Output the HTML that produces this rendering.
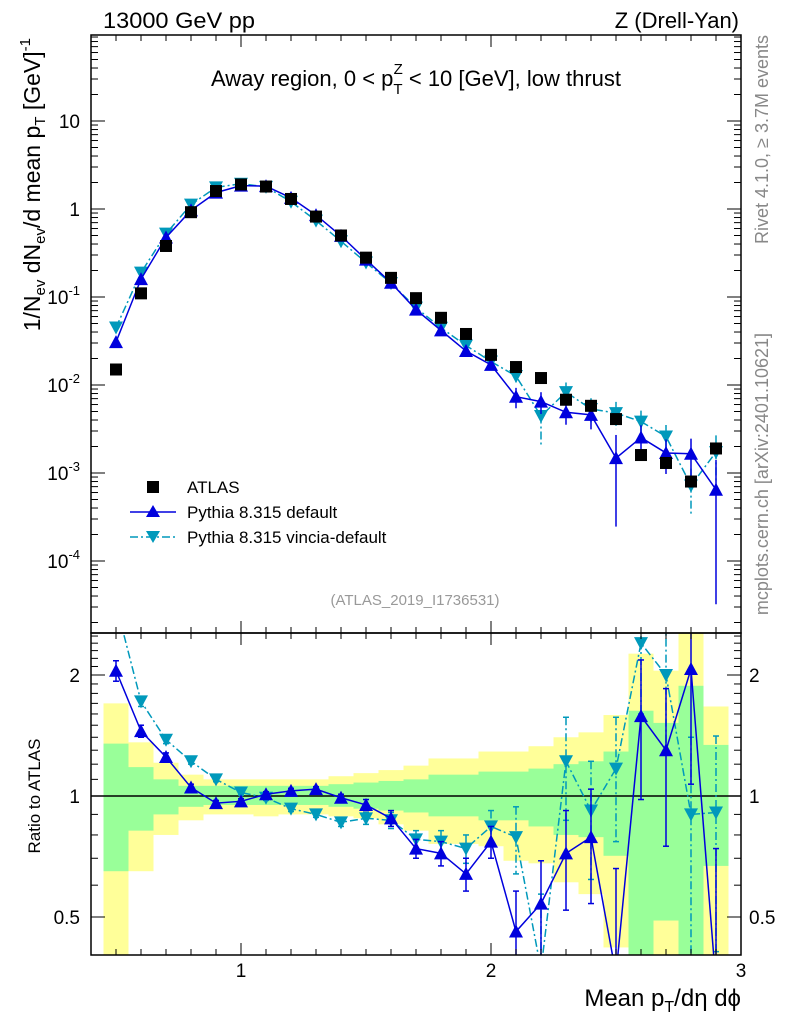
<!DOCTYPE html>
<html><head><meta charset="utf-8">
<style>
html,body{margin:0;padding:0;background:#fff;overflow:hidden;width:786px;height:1024px;}
svg{display:block;font-family:"Liberation Sans",Arial,sans-serif;}
</style></head>
<body>
<svg id="chart" width="786" height="1024" viewBox="0 0 786 1024" xmlns="http://www.w3.org/2000/svg">
<g id="bands"></g>
<g id="marks"></g>
<g id="axes"></g>
<text x="103" y="28" font-size="22" textLength="152" lengthAdjust="spacingAndGlyphs">13000 GeV pp</text>
<text x="739" y="28" font-size="22" text-anchor="end">Z (Drell-Yan)</text>
<text x="416" y="86" font-size="22" text-anchor="middle">Away region, 0 &lt; p<tspan font-size="15" dy="8">T</tspan><tspan font-size="15" dx="-9" dy="-20">Z</tspan><tspan dy="12"> &lt; 10 [GeV], low thrust</tspan></text>
<text transform="translate(40,38) rotate(-90)" font-size="23" text-anchor="end">1/N<tspan font-size="15" dy="5">ev</tspan><tspan dy="-5"> dN</tspan><tspan font-size="15" dy="5">ev</tspan><tspan dy="-5">/d mean p</tspan><tspan font-size="15" dy="5">T</tspan><tspan dy="-5"> [GeV]</tspan><tspan font-size="15" dy="-10">-1</tspan></text>
<text transform="translate(40,796) rotate(-90)" font-size="17" text-anchor="middle">Ratio to ATLAS</text>
<text transform="translate(768,35) rotate(-90)" font-size="18" fill="#888" text-anchor="end">Rivet 4.1.0, ≥ 3.7M events</text>
<text transform="translate(768,333) rotate(-90)" font-size="18" fill="#888" text-anchor="end">mcplots.cern.ch [arXiv:2401.10621]</text>
<text x="415" y="605" font-size="15" fill="#999" text-anchor="middle">(ATLAS_2019_I1736531)</text>
<text x="741" y="1006" font-size="24" text-anchor="end">Mean p<tspan font-size="16" dy="6">T</tspan><tspan dy="-6">/dη dϕ</tspan></text>
<g id="legend">
<rect x="147" y="481" width="12" height="12" fill="#000"/>
<text x="187" y="493" font-size="17">ATLAS</text>
<line x1="130" y1="512" x2="176" y2="512" stroke="#0000dd" stroke-width="1.5"/>
<polygon points="153,505 160,517 146,517" fill="#0000dd"/>
<text x="187" y="518" font-size="17">Pythia 8.315 default</text>
<line x1="130" y1="537" x2="176" y2="537" stroke="#0099bb" stroke-width="1.5" stroke-dasharray="8,3,2,3"/>
<polygon points="146,531 160,531 153,543" fill="#0099bb"/>
<text x="187" y="543" font-size="17">Pythia 8.315 vincia-default</text>
</g>
</svg>
<script>
const xCenters=[0.5,0.6,0.7,0.8,0.9,1.0,1.1,1.2,1.3,1.4,1.5,1.6,1.7,1.8,1.9,2.0,2.1,2.2,2.3,2.4,2.5,2.6,2.7,2.8,2.9];
const atlasValues=[0.015,0.11,0.38,0.92,1.6,1.9,1.8,1.3,0.82,0.5,0.28,0.165,0.097,0.058,0.038,0.022,0.016,0.012,0.0068,0.0058,0.0041,0.0016,0.0013,0.0008,0.0019];
const pythiaRatio=[2.05,1.45,1.25,1.05,0.96,0.97,1.01,1.03,1.04,0.99,0.95,0.88,0.74,0.72,0.64,0.77,0.46,0.54,0.72,0.79,0.36,1.58,1.3,2.07,0.34];
const pythiaRatioErr=[0.12,0.05,0.03,0.02,0.015,0.015,0.015,0.015,0.015,0.02,0.03,0.04,0.04,0.05,0.06,0.07,0.12,0.15,0.2,0.25,0.3,0.6,0.55,1.0,0.4];
const vinciaRatio=[3.0,1.72,1.38,1.22,1.1,1.02,0.99,0.93,0.9,0.86,0.88,0.87,0.78,0.77,0.74,0.84,0.79,0.37,1.22,0.92,1.17,2.4,2.0,0.9,0.91];
const vinciaRatioErr=[0.1,0.05,0.03,0.02,0.015,0.015,0.015,0.015,0.015,0.02,0.03,0.04,0.04,0.05,0.06,0.08,0.15,0.2,0.35,0.3,0.4,0.8,0.7,0.5,0.5];
const greenHi=[1.35,1.18,1.10,1.06,1.06,1.06,1.06,1.06,1.06,1.07,1.08,1.09,1.10,1.13,1.13,1.15,1.15,1.17,1.20,1.22,1.29,1.63,1.52,1.88,1.34];
const greenLo=[0.65,0.82,0.90,0.94,0.95,0.95,0.95,0.95,0.95,0.94,0.93,0.92,0.91,0.89,0.89,0.87,0.87,0.84,0.80,0.79,0.71,0.3,0.49,0.3,0.67];
const yellowHi=[1.70,1.36,1.21,1.13,1.10,1.10,1.10,1.10,1.10,1.12,1.14,1.16,1.19,1.24,1.24,1.29,1.29,1.33,1.40,1.44,1.59,2.26,2.05,3.0,1.67];
const yellowLo=[0.3,0.65,0.80,0.87,0.90,0.90,0.89,0.90,0.90,0.89,0.88,0.85,0.82,0.76,0.76,0.75,0.69,0.68,0.61,0.57,0.42,0.3,0.3,0.3,0.3];
const binWidth=0.1;
const mainTickLabels=["10^-4","10^-3","10^-2","10^-1","1","10"];

const NS="http://www.w3.org/2000/svg";
const L=91,R=741,T=35,MB=633,RB=955;
function X(v){return L+(v-0.4)*250;}
function Ymain(v){return 209-Math.log10(v)*88;}
function Yr(v){return 796-Math.log2(v)*121;}
function mk(tag,attrs,parent){const e=document.createElementNS(NS,tag);for(const k in attrs)e.setAttribute(k,attrs[k]);parent.appendChild(e);return e;}
const bands=document.getElementById('bands'),marks=document.getElementById('marks'),axes=document.getElementById('axes');
xCenters.forEach((c,i)=>{
  const x0=X(c-binWidth/2),x1=X(c+binWidth/2);
  let y1=Math.max(MB,Yr(yellowHi[i])),y2=Math.min(RB,Yr(yellowLo[i]));
  let r=mk('rect',{x:x0,y:y1,width:x1-x0,height:y2-y1,fill:'#ffff99'},bands);
  
  
  y1=Math.max(MB,Yr(greenHi[i]));y2=Math.min(RB,Yr(greenLo[i]));
  r=mk('rect',{x:x0,y:y1,width:x1-x0,height:y2-y1,fill:'#99ff99'},bands);
  
  
});
const defs=mk('defs',{},document.getElementById('chart'));
const cm=mk('clipPath',{id:'cm'},defs);mk('rect',{x:L,y:T,width:R-L,height:MB-T},cm);
const cr=mk('clipPath',{id:'cr'},defs);mk('rect',{x:L,y:MB,width:R-L,height:RB-MB},cr);
const gm=mk('g',{'clip-path':'url(#cm)'},marks);
const gr=mk('g',{'clip-path':'url(#cr)'},marks);
mk('line',{x1:L,x2:R,y1:Yr(1),y2:Yr(1),stroke:'#000','stroke-width':1.5},gr);
function tri(g,x,y,down,col,name){
  const s=7;const p=down?`${x-s},${y-s+1} ${x+s},${y-s+1} ${x},${y+s}`:`${x},${y-s} ${x+s},${y+s-1} ${x-s},${y+s-1}`;
  const e=mk('polygon',{points:p,fill:col},g);
  
  
}
function series(ratio,err,col,dash,down,nm){
  const pm=xCenters.map((c,i)=>X(c)+','+Ymain(atlasValues[i]*ratio[i])).join(' ');
  const l=mk('polyline',{points:pm,fill:'none',stroke:col,'stroke-width':1.5,'stroke-dasharray':dash},gm);
  
  
  const pr=xCenters.map((c,i)=>X(c)+','+Yr(ratio[i])).join(' ');
  const l2=mk('polyline',{points:pr,fill:'none',stroke:col,'stroke-width':1.5,'stroke-dasharray':dash},gr);
  
  
  xCenters.forEach((c,i)=>{
    const x=X(c);
    const hi=ratio[i]+err[i],lo=Math.max(0.05,ratio[i]-err[i]);
    const e1=mk('line',{x1:x,x2:x,y1:Yr(hi),y2:Yr(lo),stroke:col,'stroke-width':1.5,'stroke-dasharray':dash},gr);
    
    
    [hi,lo].forEach(v=>{mk('line',{x1:x-3,x2:x+3,y1:Yr(v),y2:Yr(v),stroke:col,'stroke-width':1.5},gr);});
    const v=atlasValues[i]*ratio[i],ve=atlasValues[i]*err[i];
    if(ve/v>0.08){
      const e2=mk('line',{x1:x,x2:x,y1:Ymain(v+ve),y2:Ymain(Math.max(v*0.05,v-ve)),stroke:col,'stroke-width':1.5,'stroke-dasharray':dash},gm);
      
      
    }
    tri(gm,x,Ymain(v),down,col,nm+'-point');
    tri(gr,x,Yr(ratio[i]),down,col,nm+'-ratio-point');
  });
}
series(vinciaRatio,vinciaRatioErr,'#0099bb','8,3,2,3',true,'vincia');
series(pythiaRatio,pythiaRatioErr,'#0000dd','none',false,'pythia');
xCenters.forEach((c,i)=>{
  const r=mk('rect',{x:X(c)-6,y:Ymain(atlasValues[i])-6,width:12,height:12,fill:'#000'},gm);
  
  
});
[[T,MB],[MB,RB]].forEach(([a,b])=>{mk('rect',{x:L,y:a,width:R-L,height:b-a,fill:'none',stroke:'#000','stroke-width':1.5},axes);});
function ln(x1,y1,x2,y2){mk('line',{x1,y1,x2,y2,stroke:'#000','stroke-width':1},axes);}
for(let k=4;k<=30;k++){
  const v=k/10,x=X(v),maj=(k%10===0),len=maj?12:6;
  [[T,1],[MB,1],[MB,-1],[RB,-1]].forEach(([y,d])=>ln(x,y,x,y+d*len));
}
[1,2,3].forEach(v=>{const t=mk('text',{x:X(v),y:977,'font-size':19,'text-anchor':'middle'},axes);t.textContent=v;
  
  });
for(let d=-5;d<=1;d++){for(let m=1;m<=9;m++){const v=m*Math.pow(10,d),y=Ymain(v);if(y<T||y>MB)continue;const len=m===1?14:7;ln(L,y,L+len,y);ln(R,y,R-len,y);}}
mainTickLabels.forEach((lab,i)=>{
  const d=i-4;const y=Ymain(Math.pow(10,d))+7;
  const t=mk('text',{x:80,y:y,'font-size':19,'text-anchor':'end'},axes);
  
  
  if(lab.indexOf('^')<0){t.textContent=lab;}
  else{const [b,e]=lab.split('^');t.textContent=b;const s=mk('tspan',{'font-size':13,dy:-9},t);s.textContent=e;}
});
[0.5,0.6,0.7,0.8,0.9,1,1.1,1.2,1.3,1.4,1.5,1.6,1.7,1.8,1.9,2,2.1,2.2,2.3,2.4,2.5].forEach(v=>{
  const y=Yr(v);const maj=(v===0.5||v===1||v===2);const len=maj?14:7;ln(L,y,L+len,y);ln(R,y,R-len,y);});
[[0.5,'0.5'],[1,'1'],[2,'2']].forEach(([v,s])=>{
  let t=mk('text',{x:80,y:Yr(v)+7,'font-size':19,'text-anchor':'end'},axes);t.textContent=s;
  
  
  t=mk('text',{x:749,y:Yr(v)+7,'font-size':19},axes);t.textContent=s;
  
  
});
</script>
</body></html>
